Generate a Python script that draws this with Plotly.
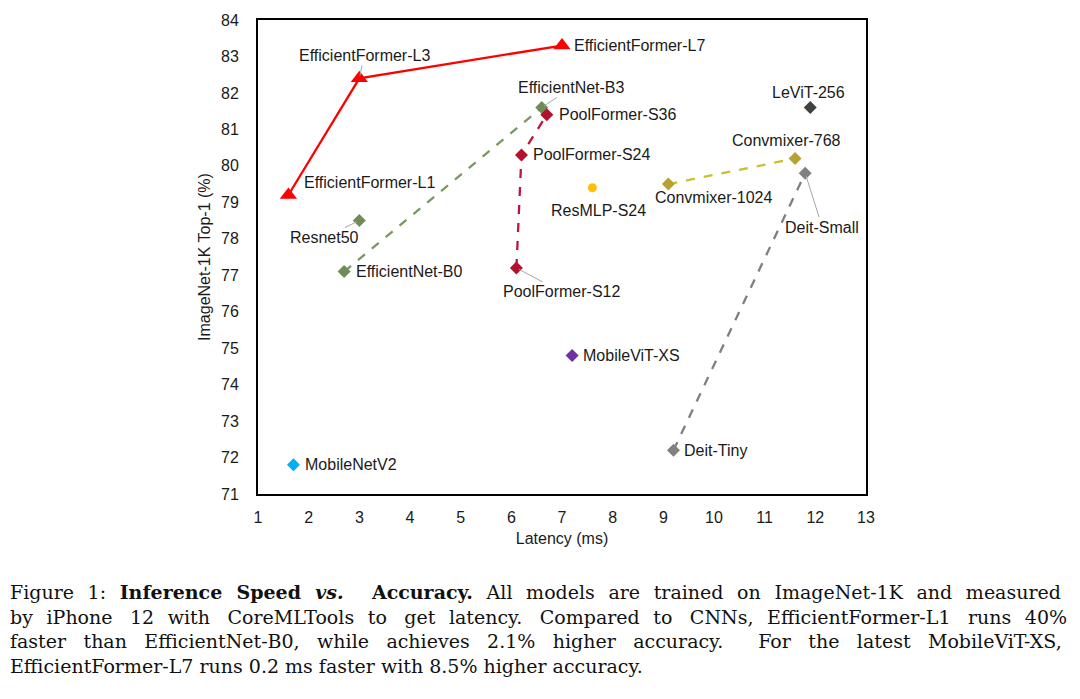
import plotly.graph_objects as go

# latency (ms) / top-1 accuracy (%)
models = ["EfficientFormer-L1", "EfficientFormer-L3", "EfficientFormer-L7",
          "EfficientNet-B0", "EfficientNet-B3", "Resnet50",
          "PoolFormer-S12", "PoolFormer-S24", "PoolFormer-S36",
          "ResMLP-S24", "Convmixer-1024", "Convmixer-768",
          "LeViT-256", "Deit-Tiny", "Deit-Small",
          "MobileViT-XS", "MobileNetV2"]
latency = [1.6, 3.0, 7.0,
           2.7, 6.6, 3.0,
           6.1, 6.2, 6.7,
           7.6, 9.1, 11.6,
           11.9, 9.2, 11.8,
           7.2, 1.7]
top1 = [79.2, 82.4, 83.3,
        77.1, 81.6, 78.5,
        77.2, 80.3, 81.4,
        79.4, 79.5, 80.2,
        81.6, 72.2, 79.8,
        74.8, 71.8]

# groups drawn as connected series
groups = [
    (["EfficientFormer-L1", "EfficientFormer-L3", "EfficientFormer-L7"], "#ff0000", "#ff0000", "solid", "triangle-up", 15),
    (["EfficientNet-B0", "EfficientNet-B3"], "#7a9862", "#6f8c58", "dash", "diamond", 10),
    (["PoolFormer-S12", "PoolFormer-S24", "PoolFormer-S36"], "#c0143c", "#b3122e", "dash", "diamond", 10),
    (["Convmixer-1024", "Convmixer-768"], "#c9c02c", "#b5a230", "dash", "diamond", 10),
    (["Deit-Tiny", "Deit-Small"], "#7f7f7f", "#808080", "dash", "diamond", 10),
]
singles = [
    ("Resnet50", "#6f8c58", "diamond", 10),
    ("ResMLP-S24", "#ffc000", "circle", 9),
    ("LeViT-256", "#404040", "diamond", 10),
    ("MobileViT-XS", "#7030a0", "diamond", 10),
    ("MobileNetV2", "#00b0f0", "diamond", 10),
]

# label placement in screen px (dx right, dy down), anchor, leader line
label_pos = {
    "EfficientFormer-L1": (14, -13, "left", False),
    "EfficientFormer-L3": (5, -23, "center", True),
    "EfficientFormer-L7": (10, 0, "left", False),
    "EfficientNet-B0": (10, 0, "left", False),
    "EfficientNet-B3": (30, -20, "center", True),
    "Resnet50": (-35, 17, "center", True),
    "PoolFormer-S12": (45, 24, "center", True),
    "PoolFormer-S24": (10, 0, "left", False),
    "PoolFormer-S36": (10, 0, "left", False),
    "ResMLP-S24": (6, 23, "center", False),
    "Convmixer-1024": (45, 13, "center", False),
    "Convmixer-768": (-9, -18, "center", False),
    "LeViT-256": (-2, -15, "center", False),
    "Deit-Tiny": (9, 0, "left", False),
    "Deit-Small": (17, 54, "center", True),
    "MobileViT-XS": (9, 0, "left", False),
    "MobileNetV2": (10, 0, "left", False),
}

idx = {m: i for i, m in enumerate(models)}
fig = go.Figure()

for names, lcol, mcol, dash, sym, size in groups:
    fig.add_trace(go.Scatter(
        x=[latency[idx[n]] for n in names], y=[top1[idx[n]] for n in names],
        mode="lines+markers", line=dict(color=lcol, width=2.3, dash=dash),
        marker=dict(symbol=sym, size=size, color=mcol), showlegend=False))

for n, col, sym, size in singles:
    fig.add_trace(go.Scatter(x=[latency[idx[n]]], y=[top1[idx[n]]], mode="markers",
                             marker=dict(symbol=sym, size=size, color=col), showlegend=False))

lab_font = dict(family="Liberation Sans, Arial", size=16, color="#1a1a1a")
for m in models:
    dx, dy, anchor, leader = label_pos[m]
    if leader:
        fig.add_annotation(x=latency[idx[m]], y=top1[idx[m]], text=m, font=lab_font,
                           showarrow=True, arrowhead=0, arrowwidth=1, arrowcolor="#a6a6a6",
                           ax=dx, ay=dy, standoff=3)
    else:
        fig.add_annotation(x=latency[idx[m]], y=top1[idx[m]], text=m, font=lab_font,
                           showarrow=False, xanchor=anchor, xshift=dx, yshift=-dy)

caption = [
    "Figure 1: <b>Inference Speed <i>vs.</i>  Accuracy.</b> All models are trained on ImageNet-1K and measured",
    "by iPhone 12 with CoreMLTools to get latency. Compared to CNNs, EfficientFormer-L1 runs 40%",
    "faster than EfficientNet-B0, while achieves 2.1% higher accuracy.  For the latest MobileViT-XS,",
    "EfficientFormer-L7 runs 0.2 ms faster with 8.5% higher accuracy.",
]
# extra thin spaces per word gap (average), to get the justified look of the paper
caption_pad = [2, 2.5, 3, 0]


def spread(line, pad):
    parts = line.split(" ")
    out = parts[0]
    for i, word in enumerate(parts[1:]):
        n = int((i + 1) * pad) - int(i * pad)
        out += " " + "\u2009" * n + word
    return out


lines = [spread(ln, p) for ln, p in zip(caption, caption_pad)]

L, T, W, H = 250, 12, 608, 474
fig.add_annotation(xref="paper", yref="paper", x=(0 - L) / W, y=1 - (571 - T) / H,
                   text="<br>".join(lines), showarrow=False, xanchor="left", yanchor="top",
                   align="left",
                   font=dict(family="DejaVu Serif, Liberation Serif", size=19, color="#111111"))

axis_font = dict(family="Liberation Sans, Arial", size=16, color="#1a1a1a")
fig.update_xaxes(range=[1, 13], dtick=1, tick0=1, showgrid=False, zeroline=False,
                 showline=True, linecolor="black", linewidth=2, mirror=True, automargin=False,
                 ticks="outside", ticklen=8, tickcolor="rgba(0,0,0,0)", tickfont=axis_font,
                 title=dict(text="Latency (ms)", font=axis_font, standoff=8))
fig.update_yaxes(range=[71, 84], dtick=1, tick0=71, showgrid=False, zeroline=False,
                 showline=True, linecolor="black", linewidth=2, mirror=True, automargin=False,
                 ticks="outside", ticklen=14, tickcolor="rgba(0,0,0,0)", tickfont=axis_font,
                 title=dict(text="ImageNet-1K Top-1 (%)", font=axis_font, standoff=6))
fig.update_layout(width=1080, height=699, plot_bgcolor="white", paper_bgcolor="white",
                  margin=dict(l=L, r=1080 - L - W, t=T, b=699 - T - H))

fig.write_html("out.html")
